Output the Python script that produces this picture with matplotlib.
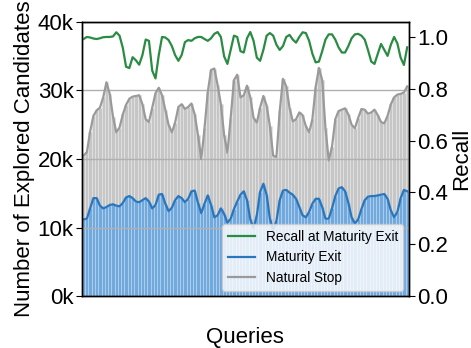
import matplotlib
matplotlib.use("Agg")
import matplotlib.pyplot as plt
from matplotlib.ticker import FuncFormatter
import numpy as np

plt.rcParams['font.family'] = ['Liberation Sans', 'DejaVu Sans']

natural_stop = [20.5, 21.0, 24.0, 26.3, 27.1, 27.5, 29.0, 31.2, 29.5, 26.2,
                23.9, 24.6, 26.5, 27.9, 28.8, 29.1, 29.2, 29.3, 28.0, 25.8,
                25.4, 27.5, 29.6, 30.4, 29.3, 27.2, 25.0, 23.9, 25.3, 27.6,
                28.0, 27.3, 27.6, 28.1, 26.5, 23.5, 20.0, 24.5, 29.8, 33.0,
                33.2, 30.8, 28.0, 23.5, 20.9, 26.0, 31.5, 32.3, 29.0, 29.3,
                30.7, 29.0, 26.0, 25.3, 27.5, 29.2, 27.8, 24.8, 20.5, 20.3,
                27.0, 31.7, 30.6, 27.5, 25.5, 25.8, 26.8, 26.4, 24.8, 23.9,
                25.8, 30.5, 33.3, 31.5, 24.5, 19.8, 21.8, 25.8, 27.0, 27.2,
                27.4, 26.5, 25.0, 24.5, 26.0, 27.3, 27.2, 26.6, 26.8, 27.2,
                26.4, 25.4, 25.2, 26.3, 28.0, 29.0, 29.4, 29.5, 29.7, 30.6]

maturity_exit = [11.2, 11.3, 12.8, 14.3, 14.3, 13.2, 12.8, 13.0, 13.3, 13.4,
                 13.2, 13.1, 13.6, 14.4, 14.6, 14.3, 13.8, 13.7, 14.0, 14.3,
                 13.8, 12.8, 13.3, 14.8, 14.9, 13.5, 12.4, 12.9, 14.0, 14.6,
                 14.3, 13.7, 14.2, 15.3, 15.4, 13.6, 12.1, 13.5, 14.7, 13.3,
                 11.5, 11.8, 12.8, 12.0, 10.7, 11.3, 12.7, 13.8, 14.8, 15.3,
                 14.0, 11.2, 9.9, 11.8, 15.2, 16.4, 14.8, 11.3, 9.6, 11.0,
                 14.0, 15.4, 15.5, 15.1, 14.8, 14.2, 13.0, 11.8, 11.5, 12.3,
                 13.5, 14.2, 14.2, 13.0, 11.3, 11.3, 12.8, 14.6, 15.7, 15.9,
                 15.3, 13.6, 11.5, 10.6, 11.2, 12.7, 14.0, 14.5, 14.6, 14.6,
                 14.7, 14.8, 14.9, 14.2, 12.5, 11.5, 12.3, 14.3, 15.5, 15.3]

recall = [0.992, 1.000, 0.998, 0.994, 0.992, 0.995, 0.999, 1.000, 1.000, 1.002,
          1.018, 1.005, 0.958, 0.885, 0.880, 0.922, 0.910, 0.893, 0.930, 0.990,
          0.985, 0.870, 0.840, 0.930, 1.000, 0.998, 0.988, 0.965, 0.930, 0.908,
          0.930, 0.980, 0.988, 0.985, 0.995, 1.000, 1.000, 0.992, 0.985, 0.995,
          1.012, 1.019, 1.000, 0.925, 0.896, 0.950, 1.005, 1.000, 0.945, 0.940,
          0.995, 1.019, 0.985, 0.920, 0.908, 0.950, 1.005, 1.015, 1.005, 0.970,
          0.950, 0.965, 1.000, 1.008, 0.990, 0.978, 1.000, 1.018, 1.015, 0.985,
          0.935, 0.902, 0.905, 0.945, 0.990, 1.010, 1.010, 0.990, 0.960, 0.940,
          0.940, 0.965, 0.995, 1.010, 1.012, 1.005, 0.990, 0.950, 0.905, 0.896,
          0.935, 0.973, 0.950, 0.927, 0.970, 1.000, 0.975, 0.920, 0.892, 0.960]

x = np.arange(len(natural_stop))
ns = np.array(natural_stop) * 1000
me = np.array(maturity_exit) * 1000

fig = plt.figure(figsize=(4.71, 3.48), dpi=100)
ax1 = fig.add_axes([0.174, 0.149, 0.694, 0.788])

gray_line = '#9a9a9a'
blue_line = '#2a76bd'
green_line = '#2a8c42'

ax1.bar(x, ns, width=1.0, color='#c6c6c6', edgecolor='#e4e4e4', linewidth=0.5)
l_ns, = ax1.plot(x, ns, color=gray_line, lw=1.6)
ax1.bar(x, me, width=1.0, color='#72a9dc', edgecolor='#b8d4ef', linewidth=0.5)
l_me, = ax1.plot(x, me, color=blue_line, lw=1.6)

ax1.set_xlim(-0.5, len(x) - 0.5)
ax1.set_ylim(0, 40000)
ax1.set_yticks([0, 10000, 20000, 30000, 40000])
ax1.yaxis.set_major_formatter(FuncFormatter(lambda v, p: f"{int(v/1000)}k"))
ax1.set_xticks([])
ax1.grid(axis='y', color='#b0b0b0', lw=1.0)
ax1.set_ylabel('Number of Explored Candidates', fontsize=16, labelpad=2)
ax1.set_xlabel('Queries', fontsize=16, labelpad=22)
ax1.tick_params(axis='y', labelsize=16, length=4, pad=2)

ax2 = ax1.twinx()
l_rc, = ax2.plot(x, recall, color=green_line, lw=1.6)
ax2.set_ylim(0, 1.058)
ax2.set_yticks([0.0, 0.2, 0.4, 0.6, 0.8, 1.0])
ax2.set_yticklabels(['0.0', '0.2', '0.4', '0.6', '0.8', '1.0'])
ax2.set_ylabel('Recall', fontsize=16, labelpad=2)
ax2.tick_params(axis='y', labelsize=16, length=4, pad=2)

for ax in (ax1, ax2):
    for s in ax.spines.values():
        s.set_color('black')
        s.set_linewidth(1.0)

leg = ax2.legend([l_rc, l_me, l_ns], ['Recall at Maturity Exit', 'Maturity Exit', 'Natural Stop'],
                 loc='lower right', fontsize=9.8, framealpha=0.8, borderaxespad=0.4)

fig.savefig('out.png', dpi=100)
